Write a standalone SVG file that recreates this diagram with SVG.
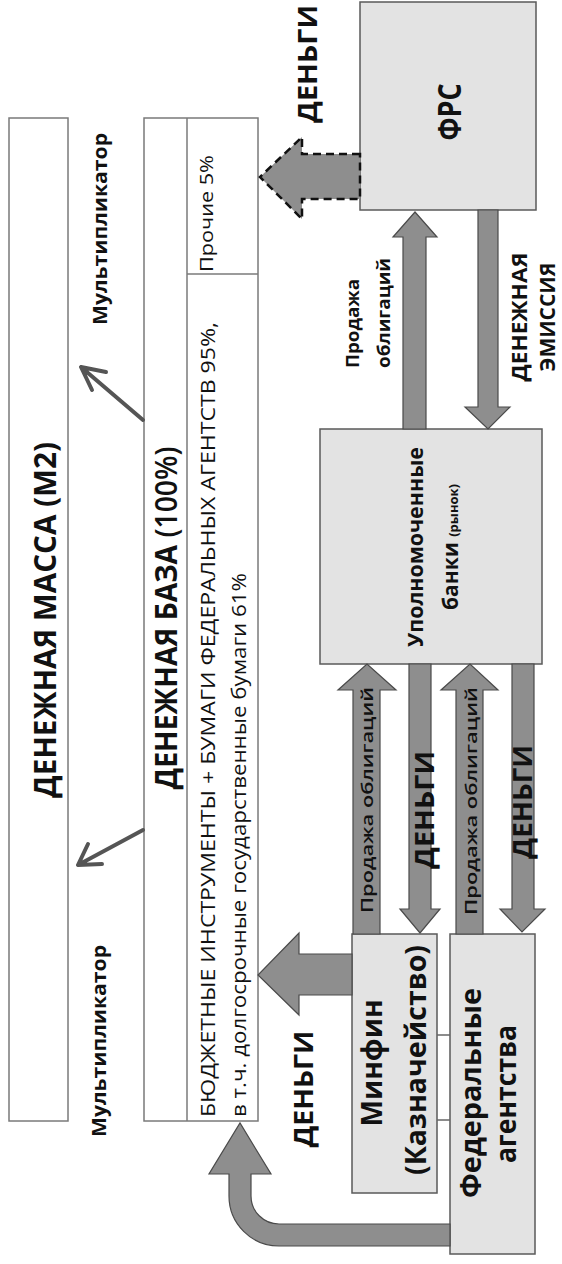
<svg xmlns="http://www.w3.org/2000/svg" width="562" height="1264" viewBox="0 0 562 1264">
<style>
.t{font-family:"Open Sans","DejaVu Sans",sans-serif;fill:#111}
.b{font-weight:700}
.r{font-weight:400}
.node{fill:#e3e3e3;stroke:#5a5a5a;stroke-width:1.5}
.panel{fill:#fff;stroke:#7a7a7a;stroke-width:1.5}
.arr{fill:#8e8e8e;stroke:#4a4a4a;stroke-width:1.2}
.thin{fill:none;stroke:#555;stroke-width:4;stroke-linecap:round;stroke-linejoin:round}
.tick{stroke:#666;stroke-width:1.5}
</style>
<rect width="562" height="1264" fill="#fff"/>

<g id="m2">
<rect class="panel" x="9" y="118" width="59" height="1003"/>
<text class="t b" font-size="30" text-anchor="middle" textLength="356" lengthAdjust="spacingAndGlyphs" transform="translate(56,620) rotate(-90)">ДЕНЕЖНАЯ МАССА (М2)</text>
</g>

<g id="mult-top">
<text class="t b" font-size="19" text-anchor="middle" textLength="192" lengthAdjust="spacingAndGlyphs" transform="translate(107,229) rotate(-90)">Мультипликатор</text>
</g>
<g id="mult-bottom">
<text class="t b" font-size="19" text-anchor="middle" textLength="192" lengthAdjust="spacingAndGlyphs" transform="translate(106,1041) rotate(-90)">Мультипликатор</text>
</g>

<g id="base">
<rect class="panel" x="144" y="118" width="114" height="1003"/>
<line class="panel" x1="187" y1="118" x2="187" y2="1121"/>
<line class="panel" x1="187" y1="274" x2="258" y2="274"/>
<text class="t b" font-size="30" text-anchor="middle" textLength="343" lengthAdjust="spacingAndGlyphs" transform="translate(177,618) rotate(-90)">ДЕНЕЖНАЯ БАЗА <tspan font-weight="600">(100%)</tspan></text>
<text class="t r" font-size="18" textLength="117" lengthAdjust="spacingAndGlyphs" transform="translate(213,272) rotate(-90)">Прочие 5%</text>
<text class="t r" font-size="20" textLength="795" lengthAdjust="spacingAndGlyphs" transform="translate(215,1117) rotate(-90)">БЮДЖЕТНЫЕ ИНСТРУМЕНТЫ + БУМАГИ ФЕДЕРАЛЬНЫХ АГЕНТСТВ 95%,</text>
<text class="t r" font-size="20" textLength="544" lengthAdjust="spacingAndGlyphs" transform="translate(246,1117) rotate(-90)">в т.ч. долгосрочные государственные бумаги 61%</text>
</g>

<g id="frs">
<rect class="node" x="360" y="2" width="176" height="208"/>
<text class="t b" font-size="32" text-anchor="middle" textLength="57" lengthAdjust="spacingAndGlyphs" transform="translate(461,112) rotate(-90)">ФРС</text>
</g>

<g id="banks">
<rect class="node" x="320" y="429" width="222" height="235"/>
<text class="t b" font-size="21" text-anchor="middle" textLength="200" lengthAdjust="spacingAndGlyphs" transform="translate(423,547) rotate(-90)">Уполномоченные</text>
<text class="t b" font-size="21" text-anchor="middle" transform="translate(458,547) rotate(-90)">банки <tspan font-size="13">(рынок)</tspan></text>
</g>

<g id="minfin">
<rect class="node" x="352" y="934" width="85" height="259"/>
<text class="t b" font-size="29" text-anchor="middle" textLength="127" lengthAdjust="spacingAndGlyphs" transform="translate(382,1063) rotate(-90)">Минфин</text>
<text class="t b" font-size="29" text-anchor="middle" textLength="230" lengthAdjust="spacingAndGlyphs" transform="translate(426,1060) rotate(-90)">(Казначейство)</text>
</g>

<g id="fedagencies">
<rect class="node" x="450" y="934" width="85" height="320"/>
<text class="t b" font-size="28" text-anchor="middle" textLength="210" lengthAdjust="spacingAndGlyphs" transform="translate(481,1093) rotate(-90)">Федеральные</text>
<text class="t b" font-size="28" text-anchor="middle" textLength="138" lengthAdjust="spacingAndGlyphs" transform="translate(516,1094) rotate(-90)">агентства</text>
</g>

<g id="connectors">
<path class="thin" d="M143 420 L81 367 M92 390 L81 367 L106 372"/>
<path class="thin" d="M143 830 L78 865 M88 844 L78 865 L102 864"/>
<path d="M360 154 L302 154 L302 137 L260 177 L302 219 L302 199 L360 199 Z" fill="#8e8e8e" stroke="#111" stroke-width="2.5" stroke-dasharray="8 5"/>
<path class="arr" d="M403 429 L403 237 L393 237 L415 212 L437 237 L426 237 L426 429 Z"/>
<path class="arr" d="M478 210 L478 407 L465 407 L488 429 L510 407 L498 407 L498 210 Z"/>
<path class="arr" d="M353 934 L353 690 L338 690 L367 664 L396 690 L380 690 L380 934 Z"/>
<path class="arr" d="M409 664 L409 909 L400 909 L420 933 L440 909 L431 909 L431 664 Z"/>
<path class="arr" d="M456 934 L456 690 L441 690 L470 664 L498 690 L483 690 L483 934 Z"/>
<path class="arr" d="M512 664 L512 909 L500 909 L522 932 L545 909 L534 909 L534 664 Z"/>
<path class="arr" d="M352 954 L299 954 L299 933 L258 975 L299 1015 L299 995 L352 995 Z"/>
<path class="arr" d="M229 1174 L209 1174 L240 1123 L271 1174 L251 1174 L251 1196 A28 28 0 0 0 279 1224 L450 1224 L450 1246 L279 1246 A50 50 0 0 1 229 1196 Z"/>
<line class="tick" x1="437" y1="1035" x2="450" y2="1035"/>
<line class="tick" x1="437" y1="1120" x2="450" y2="1120"/>
<text class="t b" font-size="27" text-anchor="middle" textLength="118" lengthAdjust="spacingAndGlyphs" transform="translate(317,64) rotate(-90)">ДЕНЬГИ</text>
<text class="t b" font-size="18" textLength="89" lengthAdjust="spacingAndGlyphs" transform="translate(359,368) rotate(-90)">Продажа</text>
<text class="t b" font-size="18" textLength="110" lengthAdjust="spacingAndGlyphs" transform="translate(390,368) rotate(-90)">облигаций</text>
<text class="t b" font-size="21" text-anchor="middle" textLength="129" lengthAdjust="spacingAndGlyphs" transform="translate(527,317) rotate(-90)">ДЕНЕЖНАЯ</text>
<text class="t b" font-size="21" text-anchor="middle" textLength="109" lengthAdjust="spacingAndGlyphs" transform="translate(555,317) rotate(-90)">ЭМИССИЯ</text>
<text class="t" font-weight="600" font-size="17" textLength="226" lengthAdjust="spacingAndGlyphs" transform="translate(373,913) rotate(-90)">Продажа облигаций</text>
<text class="t" font-weight="600" font-size="17" textLength="228" lengthAdjust="spacingAndGlyphs" transform="translate(477,915) rotate(-90)">Продажа облигаций</text>
<text class="t b" font-size="27" text-anchor="middle" textLength="118" lengthAdjust="spacingAndGlyphs" transform="translate(434,810) rotate(-90)">ДЕНЬГИ</text>
<text class="t b" font-size="27" text-anchor="middle" textLength="114" lengthAdjust="spacingAndGlyphs" transform="translate(532,802) rotate(-90)">ДЕНЬГИ</text>
<text class="t b" font-size="27" text-anchor="middle" textLength="117" lengthAdjust="spacingAndGlyphs" transform="translate(313,1089) rotate(-90)">ДЕНЬГИ</text>
</g>
</svg>
